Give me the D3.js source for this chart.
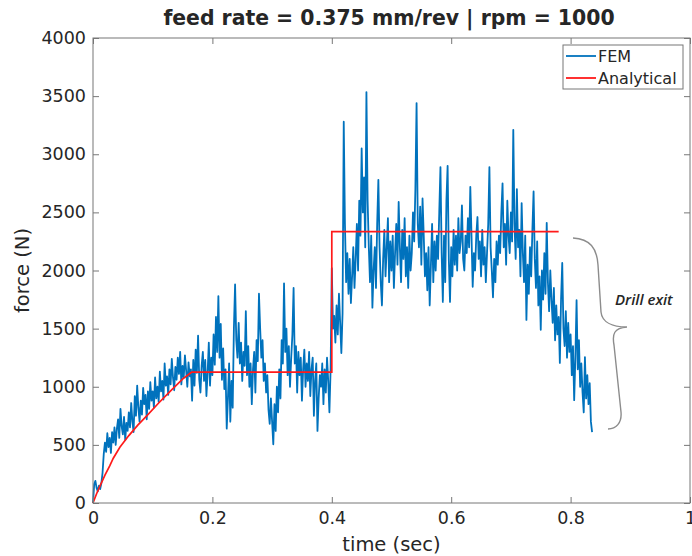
<!DOCTYPE html>
<html>
<head>
<meta charset="utf-8">
<script src="https://cdn.jsdelivr.net/npm/d3@7"></script>
<style>
  body { margin: 0; background: #fff; }
  text { font-family: "DejaVu Sans", sans-serif; fill: #262626; }
</style>
</head>
<body>
<div id="d3-container"></div>
<script>
/**
 * DATA
 * */
const xTicks = [0, 0.2, 0.4, 0.6, 0.8, 1];
const xTickLabels = ["0", "0.2", "0.4", "0.6", "0.8", "1"];
const yTicks = [0, 500, 1000, 1500, 2000, 2500, 3000, 3500, 4000];
const seriesNames = ["FEM", "Analytical"];

// FEM force, sampled every 0.002 s starting at t = 0
const femStep = 0.002;
const femForce = [
  0, 160, 190, 130, 100, 150, 120, 170, 260, 420,
  520, 440, 600, 480, 560, 430, 610, 520, 650, 500,
  640, 720, 560, 810, 660, 590, 740, 540, 690, 620,
  780, 650, 860, 700, 610, 920, 750, 1010, 820, 700,
  880, 760, 990, 850, 930, 720, 960, 810, 1040, 880,
  960, 820, 1080, 900, 1000, 870, 1130, 960, 1050, 890,
  1200, 1010, 1090, 930, 1150, 1020, 1240, 1080, 970, 1170,
  1060, 1250, 1110, 1300, 1020, 1180, 1080, 1270, 1140, 1000,
  1210, 1090, 1150, 880, 1230, 1010, 1320, 1120, 1440, 1060,
  950, 1180, 1300, 1050, 1230, 920, 1120, 1380, 1010, 1250,
  1100, 1450, 1190, 1600, 1300, 1780, 1250, 1540, 1060, 1330,
  980, 1150, 640, 900, 1200, 700, 1050, 820, 1500, 1880,
  1400, 1250, 1550, 1200, 1380, 1050, 1300, 1180, 1650, 1100,
  1350, 1000, 1200, 850, 1150, 1300, 950, 1400, 1220, 1800,
  1500, 1250, 1400, 1050, 1200, 950, 1100, 800, 680, 900,
  700, 505, 850, 620, 1000, 780, 1150, 900, 1400, 1200,
  1890, 1300, 1500, 1100, 1350, 1000, 1250, 1450, 1850, 1200,
  1350, 950, 1300, 1100, 1250, 880, 1150, 1320, 1000, 1200,
  1050, 1300, 920, 1150, 1250, 750, 1050, 1200, 620, 900,
  1100, 1000, 1200, 850, 1150, 950, 1250, 1050, 780, 1150,
  2020, 1500, 1610, 1380, 1700, 1450, 1800, 1550, 1290, 1630,
  3280, 2400, 1900, 2150, 1800, 2100, 1720, 1950, 2200, 1850,
  2100, 2400, 2000, 2600, 2300, 3050, 2500, 2800, 2200, 3535,
  2600, 2200, 1900, 2300, 1680, 2000, 2200, 1850, 2400, 2780,
  2200, 1900, 1700, 2100, 2350, 1950, 2200, 2450, 1900, 2250,
  2000, 2300, 1850, 2150, 2400, 2050, 2590, 2200, 1900, 2350,
  2100, 2450, 1950, 2200, 1850, 2300, 2000, 2150, 2500, 2250,
  2700, 3440, 2400, 2200, 2550, 2050, 2620, 2300, 1950, 2150,
  1830, 2200, 1700, 2050, 2400, 1900, 2250, 2000, 2300, 2100,
  2500, 2890, 2150, 1730, 2300, 1900, 2600, 2900, 2100, 1730,
  2200, 1950, 2350, 2050, 2300, 2000, 2450, 2150, 2250, 2560,
  2100, 2000, 2300, 2150, 2450, 2200, 2720, 2300, 1860, 2150,
  2000, 2300, 2460, 2100, 2250, 1950, 2350, 2050, 2200, 1900,
  2150, 2400, 2890, 2200, 2000, 1770, 2100, 1900, 2250, 2050,
  2300, 2150, 2500, 2750, 2200, 2400, 2050, 2600, 2300, 2150,
  2500, 2250, 3210, 2400, 2100, 2700, 2200, 2350, 1950, 2580,
  2150, 1900, 2300, 1575, 2050, 1800, 2200, 1950, 2350, 2680,
  2100, 1850, 2250, 1700, 1950, 1490, 2000, 1750, 2150, 1800,
  2410, 1900, 1650, 2000, 1750, 1550, 1850, 1400, 1700, 1450,
  1600, 1205, 1750, 2065, 1500, 1350, 1650, 1250, 1550, 1300,
  1450, 1100, 1350, 885, 1250, 1745, 1150, 1400, 1000, 1200,
  950, 780, 1255, 900, 1100, 850, 1030, 700, 610
];

// Analytical model (time, force)
const analyticalTime = [0, 0.006, 0.012, 0.02, 0.028, 0.034, 0.045, 0.06, 0.075, 0.09, 0.11, 0.13, 0.15, 0.165, 0.4, 0.4, 0.78];
const analyticalForce = [0, 80, 150, 240, 320, 385, 480, 580, 670, 750, 860, 965, 1065, 1125, 1125, 2335, 2335];

/**
 * CONSTANTS AND GLOBALS
 * */
const width = 692,
  height = 556,
  margin = { top: 38, bottom: 53, left: 93, right: 2 },
  tickFont = "17.5px",
  labelFont = "19.5px";

let svg, xScale, yScale;

init();

function init() {
  xScale = d3.scaleLinear()
    .domain([0, 1])
    .range([margin.left, width - margin.right]);

  yScale = d3.scaleLinear()
    .domain([0, 4000])
    .range([height - margin.bottom, margin.top]);

  svg = d3.select("#d3-container")
    .append("svg")
    .attr("width", width)
    .attr("height", height);

  const femData = femForce.map((f, i) => ({ t: i * femStep, f: f }));
  const anaData = analyticalTime.map((t, i) => ({ t: t, f: analyticalForce[i] }));

  const lineFunc = d3.line()
    .x(d => xScale(d.t))
    .y(d => yScale(d.f));

  // FEM trace
  svg.append("path")
    .datum(femData)
    .attr("fill", "none")
    .attr("stroke", "#0072BD")
    .attr("stroke-width", 1.8)
    .attr("stroke-linejoin", "round")
    .attr("d", lineFunc);

  // analytical trace
  svg.append("path")
    .datum(anaData)
    .attr("fill", "none")
    .attr("stroke", "#ff1a1a")
    .attr("stroke-width", 1.7)
    .attr("d", lineFunc);

  // AXES (matlab style, ticks pointing in on all sides)
  const x0 = margin.left, x1 = width - margin.right;
  const y0 = height - margin.bottom, y1 = margin.top;

  const xAxis = d3.axisBottom(xScale)
    .tickValues(xTicks)
    .tickFormat((d, i) => xTickLabels[i])
    .tickSizeInner(-6).tickSizeOuter(0).tickPadding(9);
  const yAxis = d3.axisLeft(yScale)
    .tickValues(yTicks)
    .tickFormat(d3.format("d"))
    .tickSizeInner(-6).tickSizeOuter(0).tickPadding(7);

  svg.append("g")
    .attr("class", "axis x-axis")
    .attr("transform", `translate(0,${y0})`)
    .call(xAxis);
  svg.append("g")
    .attr("class", "axis y-axis")
    .attr("transform", `translate(${x0},0)`)
    .call(yAxis);

  svg.append("g")
    .attr("transform", `translate(0,${y1})`)
    .call(d3.axisTop(xScale).tickValues(xTicks).tickFormat("").tickSizeInner(-6).tickSizeOuter(0));
  svg.append("g")
    .attr("transform", `translate(${x1},0)`)
    .call(d3.axisRight(yScale).tickValues(yTicks).tickFormat("").tickSizeInner(-6).tickSizeOuter(0));

  svg.selectAll(".domain").remove();
  svg.selectAll(".tick line").attr("stroke", "#777");
  svg.selectAll(".axis .tick text")
    .style("font-size", tickFont)
    .attr("fill", "#262626");

  svg.append("rect")
    .attr("x", x0).attr("y", y1)
    .attr("width", x1 - x0).attr("height", y0 - y1)
    .attr("fill", "none")
    .attr("stroke", "#777")
    .attr("stroke-width", 1);

  // labels
  svg.append("text")
    .attr("x", 389)
    .attr("y", 25)
    .attr("text-anchor", "middle")
    .style("font-size", "20.4px")
    .style("font-weight", "bold")
    .attr("fill", "#000")
    .text("feed rate = 0.375 mm/rev | rpm = 1000");

  svg.append("text")
    .attr("x", (x0 + x1) / 2)
    .attr("y", 551)
    .attr("text-anchor", "middle")
    .style("font-size", labelFont)
    .text("time (sec)");

  svg.append("text")
    .attr("transform", `translate(29,${(y0 + y1) / 2}) rotate(-90)`)
    .attr("text-anchor", "middle")
    .style("font-size", labelFont)
    .text("force (N)");

  // legend
  const legend = svg.append("g").attr("transform", "translate(563,45)");
  legend.append("rect")
    .attr("width", 120).attr("height", 44)
    .attr("fill", "#fff").attr("stroke", "#777");
  const legendColors = ["#0072BD", "#ff1a1a"];
  seriesNames.forEach((name, i) => {
    legend.append("line")
      .attr("x1", 3).attr("x2", 33)
      .attr("y1", 11 + i * 22).attr("y2", 11 + i * 22)
      .attr("stroke", legendColors[i]).attr("stroke-width", 1.8);
    legend.append("text")
      .attr("x", 35).attr("y", 17 + i * 22)
      .style("font-size", "16px")
      .text(name);
  });

  // drill exit brace
  svg.append("path")
    .attr("d", "M573,238 C590,239 597,248 598,265 L601,312 C602,322 612,327 627,327 C614,328 612,334 614,345 L621,412 C622,423 616,429 608,429")
    .attr("fill", "none")
    .attr("stroke", "#8c8c8c")
    .attr("stroke-width", 1.4);

  svg.append("text")
    .attr("x", 615)
    .attr("y", 305)
    .style("font-family", "'Open Sans', sans-serif")
    .style("font-style", "italic")
    .style("font-weight", "600")
    .style("font-size", "15px")
    .attr("fill", "#333")
    .text("Drill exit");
}
</script>
</body>
</html>
